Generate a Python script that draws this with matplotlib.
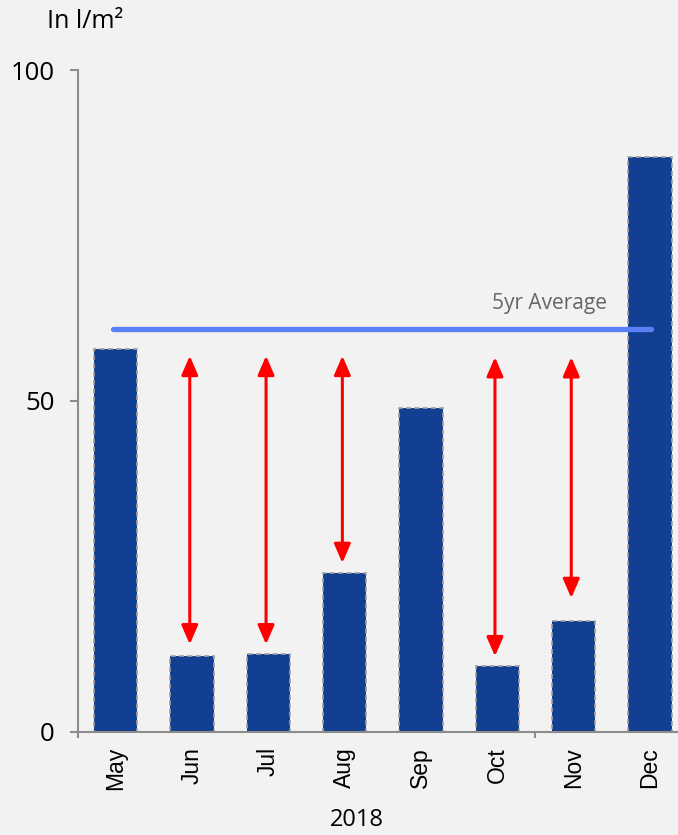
import matplotlib
matplotlib.use("Agg")
import matplotlib.pyplot as plt
from matplotlib.ticker import FixedLocator

months = ["May", "Jun", "Jul", "Aug", "Sep", "Oct", "Nov", "Dec"]
rainfall = [57.8, 11.4, 11.8, 24.0, 48.9, 9.9, 16.7, 86.8]
avg_5yr = 60.9
arrow_months = ["Jun", "Jul", "Aug", "Oct", "Nov"]
arrow_top = [56.8, 56.8, 56.8, 56.6, 56.6]
arrow_bottom = [13.2, 13.2, 25.5, 11.4, 20.2]
yticks = [0, 50, 100]
year_label = "2018"
unit_label = "In l/m²"

W, H = 678, 835
fig = plt.figure(figsize=(W / 100, H / 100), dpi=100)
fig.patch.set_facecolor("#f2f2f2")

ax_left, ax_right = 77.6, 688.0
ax_top, ax_bot = 70.0, 731.7
ax = fig.add_axes([ax_left / W, (H - ax_bot) / H, (ax_right - ax_left) / W, (ax_bot - ax_top) / H])
ax.set_facecolor("#f2f2f2")
ax.patch.set_alpha(0)

x = list(range(len(months)))
ax.bar(x, rainfall, width=0.57, color="#123f91", edgecolor="#a0a0a0",
       linewidth=1.2, linestyle=(0, (3, 2)), zorder=2)

ax.plot([-0.03, 7.02], [avg_5yr, avg_5yr], color="#5b80f5", lw=3.8,
        solid_capstyle="round", zorder=3)
ax.text(6.44, avg_5yr + 2.3, "5yr Average", color="#666666", fontsize=15,
        family=["Open Sans", "DejaVu Sans"], ha="right", va="bottom")

for m, t, b in zip(arrow_months, arrow_top, arrow_bottom):
    xi = months.index(m) - 0.03
    ax.annotate("", xy=(xi, t), xytext=(xi, b),
                arrowprops=dict(arrowstyle="<|-|>,head_length=1.15,head_width=0.5",
                                color="#ff0000", lw=2.2, shrinkA=0, shrinkB=0),
                zorder=4)

ax.set_xlim(-0.5, 7.5)
ax.set_ylim(0, 100)
for s in ["top", "right"]:
    ax.spines[s].set_visible(False)
for s in ["left", "bottom"]:
    ax.spines[s].set_color("#8c8c8c")
    ax.spines[s].set_linewidth(1.5)

ax.set_yticks(yticks)
ax.set_yticklabels([str(v) for v in yticks], family=["Open Sans", "DejaVu Sans"], fontsize=18.5)
ax.tick_params(axis="y", length=5.5, width=1.5, color="#8c8c8c", pad=11)

ax.set_xticks(x)
ax.set_xticklabels(months, rotation=90, family=["Liberation Sans", "DejaVu Sans"], fontsize=16.5)
ax.tick_params(axis="x", length=0, pad=11)
ax.xaxis.set_minor_locator(FixedLocator([-0.5, 5.5]))
ax.tick_params(axis="x", which="minor", length=4.5, width=1.5, color="#8c8c8c")

fig.text(85 / W, 1 - 22 / H, unit_label, family=["Open Sans", "DejaVu Sans"], fontsize=18,
         ha="center", va="center")
fig.text(357 / W, 1 - 820 / H, year_label, family=["Open Sans", "DejaVu Sans"], fontsize=17,
         ha="center", va="center")

fig.savefig("out.png", dpi=100, facecolor=fig.get_facecolor())
